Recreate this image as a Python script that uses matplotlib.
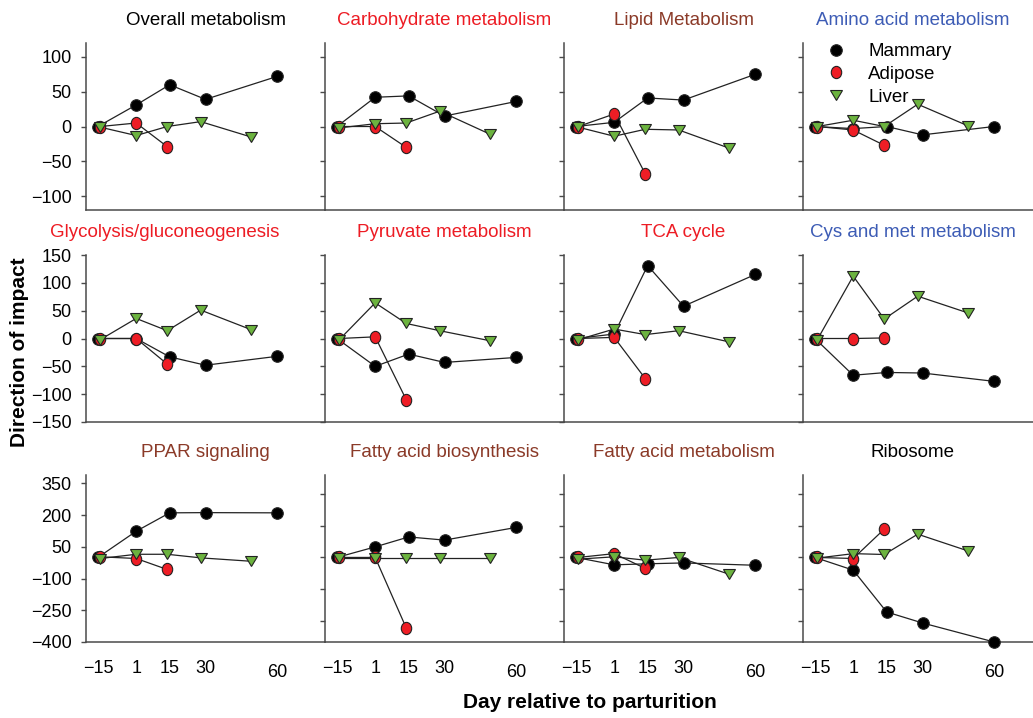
import matplotlib
matplotlib.use("Agg")
import matplotlib.pyplot as plt
from matplotlib.lines import Line2D
from matplotlib.markers import MarkerStyle
from matplotlib.transforms import Affine2D

plt.rcParams['font.family'] = ['Liberation Sans', 'DejaVu Sans']

# ==========================================
# 1. DATA
# ==========================================
DAYS_MAMMARY = [-15, 1, 15, 30, 60]
DAYS_ADIPOSE = [-14, 1, 14]
DAYS_LIVER = [-14, 1, 14, 28, 49]
DAY_TICKS = [-15, 1, 15, 30, 60]

TITLES = ["Overall metabolism", "Carbohydrate metabolism", "Lipid Metabolism",
          "Amino acid metabolism", "Glycolysis/gluconeogenesis", "Pyruvate metabolism",
          "TCA cycle", "Cys and met metabolism", "PPAR signaling",
          "Fatty acid biosynthesis", "Fatty acid metabolism", "Ribosome"]
TITLE_COLORS = ["black", "#ed1c24", "#8b3a28", "#3d5cb5",
                "#ed1c24", "#ed1c24", "#ed1c24", "#3d5cb5",
                "#8b3a28", "#8b3a28", "#8b3a28", "black"]

MAMMARY = [
    [0, 31, 60, 39, 72],
    [0, 42, 44, 15, 36],
    [0, 6, 41, 38, 75],
    [0, -3, 0, -12, 0],
    [0, 0, -33, -48, -32],
    [0, -50, -28, -43, -34],
    [0, 8, 131, 58, 115],
    [0, -66, -61, -62, -77],
    [0, 124, 211, 212, 211],
    [0, 50, 97, 82, 142],
    [0, -35, -30, -26, -37],
    [0, -60, -258, -310, -400],
]
ADIPOSE = [
    [0, 5, -29],
    [0, 0, -30],
    [0, 18, -68],
    [0, -5, -27],
    [0, 0, -46],
    [0, 3, -110],
    [0, 2, -72],
    [0, 0, 1],
    [3, -5, -57],
    [0, 0, -334],
    [0, 18, -52],
    [0, -5, 134],
]
LIVER = [
    [-1, -13, 0, 7, -15],
    [-2, 4, 5, 22, -11],
    [-1, -14, -4, -5, -31],
    [0, 9, 0, 32, 1],
    [-2, 36, 14, 51, 16],
    [-2, 64, 27, 14, -4],
    [-2, 17, 7, 14, -6],
    [-2, 112, 35, 76, 46],
    [-5, 15, 15, -2, -18],
    [-4, -4, -4, -4, -4],
    [-8, 3, -13, 0, -79],
    [-3, 18, 14, 110, 31],
]

# ==========================================
# 2. LAYOUT / STYLE
# ==========================================
W, H = 1033, 718
COL_LEFT = [86, 325, 564, 803]
ROW_TOP = [43, 255, 475]
PANEL_W, PANEL_H = 239, 167
ROW_YLIM = [(-120, 120), (-150, 150), (-400, 390)]
ROW_YTICKS = [[-100, -50, 0, 50, 100],
              [-150, -100, -50, 0, 50, 100, 150],
              [-300, -150, 0, 150, 300]]
PPAR_YTICKS = [-400, -250, -100, 50, 200, 350]

SPINE = "#4a4a4a"
RED = "#ee1d25"
GREEN = "#6cb33f"
EDGE = "#222222"
SIZES = [8.3, 8.8, 9.3]

circle = MarkerStyle('o')
oval = MarkerStyle('o', transform=Affine2D().scale(0.85, 1.0))
tri = MarkerStyle('v', transform=Affine2D().scale(1.0, 0.7))


def draw_panel(ax, i):
    row, col = divmod(i, 4)
    series = [(DAYS_MAMMARY, MAMMARY[i], circle, "black"),
              (DAYS_ADIPOSE, ADIPOSE[i], oval, RED),
              (DAYS_LIVER, LIVER[i], tri, GREEN)]
    for x, y, m, c in series:
        ax.plot(x, y, '-', color="#222222", lw=0.9, zorder=2)
    for k, (x, y, m, c) in enumerate(series):
        ax.plot(x, y, linestyle='none', marker=m, markersize=SIZES[k], markerfacecolor=c,
                markeredgecolor=EDGE, markeredgewidth=0.8, zorder=3 + k, clip_on=False)

    ax.set_xlim(-20, 80)
    ax.set_ylim(*ROW_YLIM[row])
    if i == 8:
        ax.set_yticks(PPAR_YTICKS)
    else:
        ax.set_yticks(ROW_YTICKS[row])
    ax.set_xticks(DAY_TICKS)

    for s in ['top', 'right']:
        ax.spines[s].set_visible(False)
    for s in ['left', 'bottom']:
        ax.spines[s].set_color(SPINE)
        ax.spines[s].set_linewidth(1.1)
    ax.tick_params(axis='y', direction='out', length=3.5, width=1.0, color=SPINE,
                   pad=7, labelsize=13, labelleft=(col == 0))
    ax.tick_params(axis='x', length=0, pad=13, labelsize=13, labelbottom=(row == 2))
    if row == 2:
        ax.xaxis.get_major_ticks()[-1].set_pad(15.5)
    ax.patch.set_visible(False)

    tx = 0.5
    if i == 4:
        tx = 0.33
    elif col == 3:
        tx = 0.46
    ax.set_title(TITLES[i], color=TITLE_COLORS[i], fontsize=13.5, pad=13, x=tx)


# ==========================================
# 3. FIGURE
# ==========================================
fig = plt.figure(figsize=(W / 100, H / 100), dpi=100)
axes = []
for i in range(12):
    row, col = divmod(i, 4)
    l, t = COL_LEFT[col], ROW_TOP[row]
    ax = fig.add_axes([l / W, 1 - (t + PANEL_H) / H, PANEL_W / W, PANEL_H / H])
    draw_panel(ax, i)
    axes.append(ax)

handles = [Line2D([], [], linestyle='none', marker=m, markersize=s,
                  markerfacecolor=c, markeredgecolor=EDGE, markeredgewidth=0.8)
           for m, s, c in zip([circle, oval, tri], SIZES, ["black", RED, GREEN])]
axes[3].legend(handles, ["Mammary", "Adipose", "Liver"], loc='upper left',
               bbox_to_anchor=(0.10, 1.0), frameon=False, fontsize=13.5,
               handlelength=1.0, handletextpad=1.2, labelspacing=0.3,
               borderpad=0, borderaxespad=0)

fig.text(0.019, 0.51, "Direction of impact", rotation=90, ha='center', va='center',
         fontsize=15, fontweight='bold')
fig.text(0.571, 0.021, "Day relative to parturition", ha='center', va='center',
         fontsize=15, fontweight='bold')

fig.savefig("out.png", dpi=100)
